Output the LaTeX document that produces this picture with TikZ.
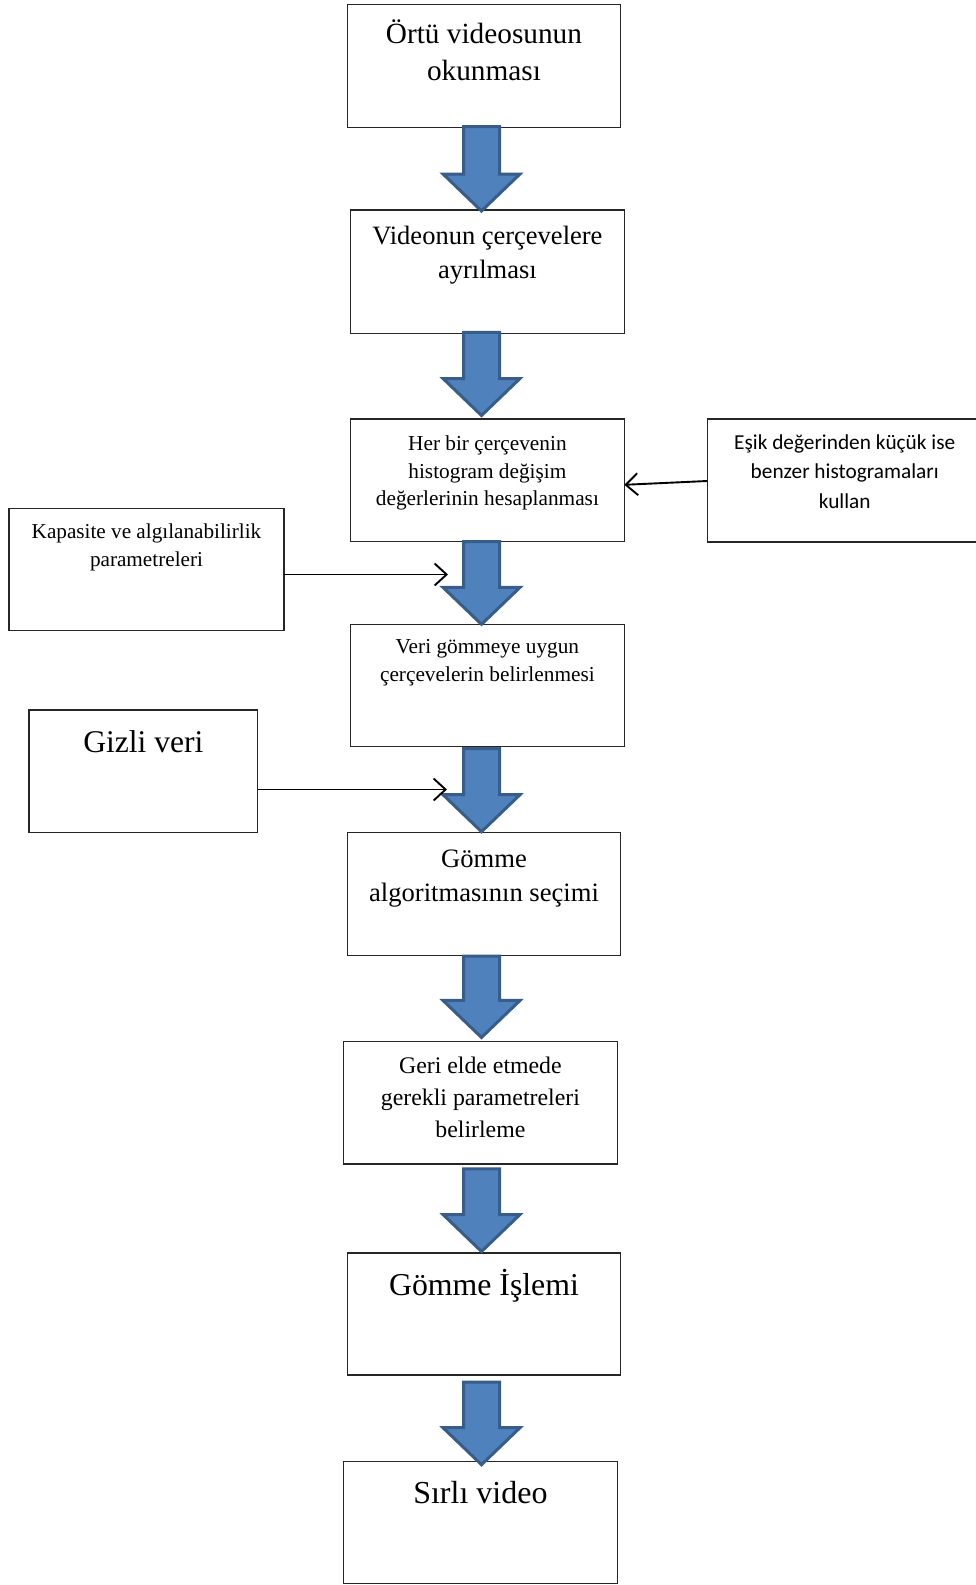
\documentclass[tikz,border=0pt]{standalone}
\usepackage{fontspec}
\setmainfont{Liberation Serif}
\newfontfamily\sidefont{Carlito}
\usetikzlibrary{calc,arrows.meta}

\definecolor{arrowfill}{RGB}{79,129,189}
\definecolor{arrowedge}{RGB}{56,93,138}

% font size / baseline skip in pt
\newcommand{\setfs}[2]{\fontsize{#1pt}{#2pt}\selectfont}
% top-aligned box text: #1 height, #2 width, #3 first baseline offset, #4 text
\newcommand{\boxtext}[4]{\parbox[t][#1][t]{#2}{\centering\rule{0pt}{#3}#4\par}}
% thick blue block arrow from the bottom of box #1 to the top of box #2;
% #3 moves the tail down, #4 moves the tip down (in pt)
\newcommand{\blockarrow}[4]{%
  \draw[blockarrow] let \p1=(#1.south -| ax), \p2=(#2.north -| ax),
      \n1={\y1-(#3pt)}, \n2={\y2-(#4pt)} in
    (\x1-18pt,\n1) -- (\x1+18pt,\n1) -- (\x1+18pt,\n2+37pt) -- (\x1+38.5pt,\n2+37pt)
    -- (\x1,\n2) -- (\x1-38.5pt,\n2+37pt) -- (\x1-18pt,\n2+37pt) -- cycle;}

\tikzset{
  box/.style={draw=black!85, line width=1.3pt, fill=white, inner sep=0pt, outer sep=0pt},
  blockarrow/.style={fill=arrowfill, draw=arrowedge, line width=3pt, line join=miter},
  thinarrow/.style={draw=black, line width=1.9pt, -{Straight Barb[length=12pt,width=22pt]}}
}

\begin{document}
\begin{tikzpicture}[x=1pt, y=-1pt]
\useasboundingbox (0,0) rectangle (975,1585);

% main chain of steps
\node[box, font=\setfs{29.3}{37.3}] (b1) at (484,66)
  {\boxtext{123pt}{273pt}{38.5pt}{Örtü videosunun\\okunması}};
\node[box, font=\setfs{26.5}{34}] (b2) at (487.4,271.7)
  {\boxtext{123.4pt}{273.8pt}{34.8pt}{Videonun çerçevelere\\ayrılması}};
\node[box, font=\setfs{21.3}{27.6}] (b3) at (487.4,480.3)
  {\boxtext{122.6pt}{273.8pt}{31.5pt}{Her bir çerçevenin\\histogram değişim\\değerlerinin hesaplanması}};
\node[box, font=\setfs{21.3}{27.5}] (b4) at (487.4,685.5)
  {\boxtext{122.3pt}{273.8pt}{29.5pt}{Veri gömmeye uygun\\çerçevelerin belirlenmesi}};
\node[box, font=\setfs{26.6}{34}] (b5) at (484,894.2)
  {\boxtext{123pt}{273pt}{35pt}{Gömme\\algoritmasının seçimi}};
\node[box, font=\setfs{23.8}{31.7}] (b6) at (480.4,1102.7)
  {\boxtext{122.5pt}{274.2pt}{32.5pt}{Geri elde etmede\\gerekli parametreleri\\belirleme}};
\node[box, font=\setfs{31.8}{36}] (b7) at (484,1314)
  {\boxtext{122pt}{273pt}{42.5pt}{Gömme İşlemi}};
\node[box, font=\setfs{32}{36}] (b8) at (480.4,1522.5)
  {\boxtext{121.6pt}{274.2pt}{41.5pt}{Sırlı video}};

% side inputs
\node[box, font=\sidefont\setfs{21.3}{29.8}] (esik) at (844.7,480.5)
  {\boxtext{123pt}{275pt}{30pt}{Eşik değerinden küçük ise\\benzer histogramaları\\kullan}};
\node[box, font=\setfs{21.2}{28.6}] (kap) at (146.5,569.5)
  {\boxtext{122.4pt}{275pt}{30pt}{Kapasite ve algılanabilirlik\\parametreleri}};
\node[box, font=\setfs{31.6}{36}] (gizli) at (143.4,771.3)
  {\boxtext{122.5pt}{228.7pt}{42pt}{Gizli veri}};

% block arrows along the chain
\coordinate (ax) at (481.5,0);
\blockarrow{b1}{b2}{-1}{1}
\blockarrow{b2}{b3}{-1}{-3.5}
\blockarrow{b3}{b4}{0}{0}
\blockarrow{b4}{b5}{2}{-1}
\blockarrow{b5}{b6}{0.5}{-4}
\blockarrow{b6}{b7}{5}{-1.5}
\blockarrow{b7}{b8}{7}{3}

% thin input arrows
\coordinate (kapEnd) at (448,574.5);
\coordinate (gizliEnd) at (447,789.5);
\draw[thinarrow] (kap.east |- kapEnd) -- (kapEnd);
\draw[thinarrow] (gizli.east |- gizliEnd) -- (gizliEnd);
\draw[thinarrow] ($(esik.west)+(0,0.5)$) -- ($(b3.east)+(0,4.5)$);
\end{tikzpicture}
\end{document}
